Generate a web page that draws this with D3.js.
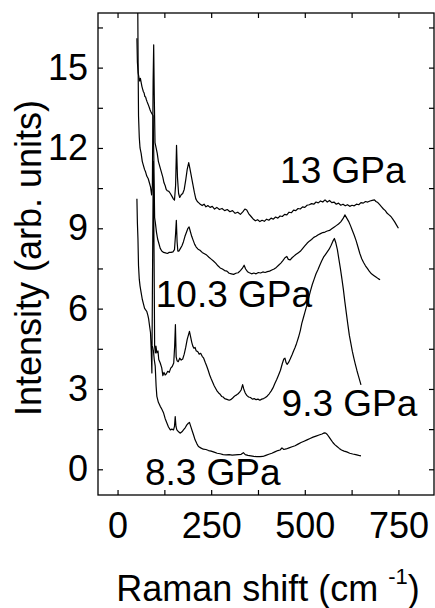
<!DOCTYPE html>
<html>
<head>
<meta charset="utf-8">
<script src="https://cdn.jsdelivr.net/npm/d3@7"></script>
<style>
  html, body { margin: 0; padding: 0; background: #fff; }
  svg { display: block; }
  text { font-family: "Liberation Sans", Arial, Helvetica, sans-serif; fill: #000; }
</style>
</head>
<body>
<svg id="chart" width="435" height="608"></svg>
<script>
// ---------------- data ----------------
const seriesNames = ["13 GPa", "10.3 GPa", "9.3 GPa", "8.3 GPa"];

const shift13 = [50,54,55,56,58,60,63,66,69,72,75,78,82,85,88,91,93,95,96.5,98,100,103,106,109,112,115,118,121,124,127,130,133,137,141,145,149,152,155,157.5,160,163,166,170,174,178,182,186,190,193,197,201,205,209,213,217,221,226,231,236,241,247,253,259,265,272,279,286,293,300,307,314,321,328,335,340,345,350,356,362,368,374,380,386,392,398,404,410,416,422,428,434,440,446,452,458,464,470,476,482,488,494,500,506,512,518,524,530,536,542,548,554,560,566,572,578,584,590,596,602,608,614,620,626,632,638,644,650,656,662,668,674,680,686,690,695,700,705,710,715,720,725,730,735,740,745,750];
const int13 = [19,17.2,15.0,13.2,12.4,12.0,11.8,11.5,11.35,11.2,11.1,10.95,10.85,10.7,10.55,10.25,10.6,14.5,15.85,14.0,12.2,12.0,11.8,11.5,11.35,11.2,11.05,10.9,10.7,10.6,10.45,10.4,10.38,10.3,10.2,10.1,10.05,10.6,12.1,10.9,10.3,10.15,10.25,10.3,10.45,10.8,11.2,11.45,11.25,10.95,10.65,10.35,10.1,10.0,9.95,9.9,9.85,9.9,9.8,9.85,9.78,9.82,9.72,9.78,9.7,9.74,9.66,9.7,9.62,9.66,9.56,9.6,9.52,9.62,9.72,9.68,9.55,9.45,9.35,9.28,9.32,9.25,9.3,9.26,9.34,9.3,9.38,9.34,9.42,9.38,9.46,9.44,9.52,9.5,9.6,9.58,9.68,9.66,9.74,9.72,9.8,9.78,9.86,9.88,9.92,9.9,9.98,9.95,10.02,9.98,10.06,9.98,10.04,9.96,9.98,9.9,9.94,9.86,9.9,9.84,9.88,9.82,9.86,9.84,9.9,9.88,9.96,9.94,10.0,9.98,10.02,10.04,10.06,10.0,9.96,9.88,9.8,9.72,9.66,9.56,9.5,9.44,9.34,9.24,9.12,9.0];

const shift103 = [51.7,53,55,57,59,61,63,65,67,69,71,73,75,77,79,81,83,85,87,89,91,93,95,97,99,101,104,107,110,114,118,123,128,133,138,143,148,152,155,157,159,161,164,168,172,176,180,184,188,191,194,198,202,206,210,215,220,226,232,238,244,250,256,262,268,274,280,286,292,298,304,310,316,322,328,333,338,342,347,352,358,364,370,376,382,388,394,400,406,412,418,424,430,436,442,447,452,456,461,466,471,476,482,488,494,500,506,512,518,524,530,536,542,548,554,560,566,572,578,584,590,596,602,607,612,617,622,627,632,637,642,647,652,657,662,667,672,678,684,690,696,701];
const int103 = [16.1,15.2,14.8,14.65,14.5,14.6,14.45,14.3,14.2,14.1,14.05,13.92,13.9,13.8,13.72,13.65,13.58,13.5,13.42,13.35,13.3,13.25,13.2,11.5,9.4,9.2,8.85,8.6,8.45,8.25,8.15,8.1,8.08,8.06,8.1,8.1,8.12,8.2,8.8,9.3,8.5,8.15,8.15,8.25,8.35,8.5,8.7,8.85,9.0,9.05,8.9,8.7,8.55,8.4,8.3,8.22,8.18,8.1,8.05,8.0,7.92,7.85,7.78,7.7,7.6,7.52,7.48,7.42,7.4,7.32,7.3,7.28,7.32,7.34,7.42,7.5,7.62,7.48,7.38,7.34,7.3,7.33,7.3,7.35,7.33,7.37,7.35,7.38,7.4,7.44,7.48,7.54,7.62,7.7,7.8,7.9,7.95,7.84,7.82,7.9,7.96,8.02,8.08,8.14,8.24,8.34,8.44,8.52,8.58,8.66,8.7,8.76,8.8,8.84,8.86,8.9,8.92,8.98,9.04,9.1,9.16,9.24,9.36,9.5,9.38,9.26,9.1,8.92,8.74,8.54,8.3,8.06,7.86,7.72,7.6,7.5,7.4,7.3,7.24,7.18,7.12,7.08];

const shift93 = [51.7,53,54.5,56,58,60,63,66,69.5,72,75,78,81,83,85.5,88,90,91.7,93,95.5,97.5,99,101,102.5,105,108,110,114,118,121,124,127,130,134,138,142,146,150,152.5,154.5,156.5,159,162,166,170,174,178,182,186,189,192,195,198,201,204,207,210,214,218,222,226,230,234,238,242,246,250,254,258,262,266,270,274,278,282,286,290,294,298,302,306,310,314,318,322,326,330,334,337,341,345,350,355,360,365,370,375,380,385,390,395,400,405,410,415,420,425,430,435,440,444,447,450,453,457,461,466,470,474,478,483,488,492,496,500,505,510,515,520,525,530,535,540,545,550,555,560,565,570,575,579,583,587,591,595,599,603,607,611,615,619,623,627,631,635,639,643,647,650];
const int93 = [10.1,9.2,8.6,7.6,7.1,6.85,6.6,6.35,6.16,6.02,5.95,5.9,5.75,5.62,5.35,5.1,4.4,3.6,6.5,11.5,8.0,4.6,4.35,4.6,4.35,4.42,4.1,3.97,3.79,3.5,3.62,3.52,3.56,3.66,3.62,3.78,3.84,3.97,4.6,5.4,4.2,4.05,4.02,4.15,4.08,4.12,4.3,4.55,4.85,5.0,5.15,4.95,4.75,4.6,4.52,4.55,4.42,4.4,4.3,4.33,4.22,4.15,4.0,3.86,3.7,3.52,3.38,3.25,3.12,3.02,2.92,2.85,2.8,2.72,2.7,2.64,2.62,2.6,2.58,2.6,2.64,2.7,2.75,2.78,2.82,2.88,2.96,3.16,3.0,2.85,2.76,2.7,2.68,2.62,2.64,2.6,2.62,2.58,2.62,2.64,2.68,2.74,2.82,2.92,3.04,3.2,3.35,3.52,3.7,3.95,4.12,4.15,3.98,3.92,4.0,4.12,4.28,4.42,4.55,4.7,4.92,5.18,5.45,5.65,5.85,6.1,6.38,6.65,6.9,7.1,7.3,7.45,7.62,7.78,7.92,8.02,8.12,8.22,8.36,8.52,8.62,8.45,8.2,7.85,7.5,7.12,6.72,6.25,5.82,5.4,5.0,4.7,4.4,4.15,3.92,3.7,3.5,3.3,3.15];

const shift83 = [93,96,98,100.6,103,105,109,114,118,123,127,132,136,141,145,149.5,152,154,156,158.4,163,167,172,176,181,185,189,192,195,199,203,207,212,216,222,229,236,243,250,258,266,274,282,290,298,306,314,322,330,336,341,348,356,364,372,380,388,396,404,412,420,428,434,439,444,450,458,466,474,482,490,498,506,514,522,530,538,546,552,556,560,565,570,575,580,586,592,598,605,612,620,628,636,644,650];
const int83 = [4.6,4.4,4.1,3.85,3.1,2.72,2.5,2.35,2.25,2.1,1.9,1.72,1.58,1.47,1.5,1.47,1.6,1.97,1.6,1.47,1.4,1.35,1.4,1.47,1.56,1.66,1.72,1.75,1.62,1.45,1.28,1.1,0.95,0.85,0.8,0.75,0.74,0.7,0.68,0.64,0.6,0.58,0.55,0.54,0.55,0.53,0.54,0.55,0.56,0.62,0.55,0.52,0.5,0.48,0.47,0.47,0.48,0.52,0.56,0.6,0.65,0.7,0.72,0.8,0.74,0.76,0.8,0.84,0.88,0.94,1.0,1.05,1.1,1.15,1.2,1.24,1.28,1.32,1.36,1.35,1.3,1.2,1.1,1.0,0.92,0.85,0.78,0.72,0.68,0.65,0.6,0.57,0.55,0.52,0.5];

// label anchor positions, in data units (Raman shift, intensity)
const labelShift = [434, 102, 438, 73];
const labelIntensity = [10.69, 6.06, 1.99, -0.59];

const xMajorTicks = [0, 250, 500, 750];
const xMinorTicks = [125, 375, 625];
const yMajorTicks = [0, 3, 6, 9, 12, 15];
const yMinorTicks = [1.5, 4.5, 7.5, 10.5, 13.5, 16.5];

const xDomain = [-52.2, 845];
const yDomain = [-0.96, 17.04];

// ---------------- drawing ----------------
const svg = d3.select("#chart");
const m = { left: 98, top: 13, right: 1, bottom: 113 };
const W = 435 - m.left - m.right;   // 336
const H = 608 - m.top - m.bottom;   // 482

const x = d3.scaleLinear().domain(xDomain).range([0, W]);
const y = d3.scaleLinear().domain(yDomain).range([H, 0]);

const g = svg.append("g").attr("transform", `translate(${m.left},${m.top})`);

g.append("defs").append("clipPath").attr("id", "clip")
  .append("rect").attr("width", W).attr("height", H);

const series = [
  { xs: shift13, ys: int13 },
  { xs: shift103, ys: int103 },
  { xs: shift93, ys: int93 },
  { xs: shift83, ys: int83 }
];

const line = d3.line().x(d => x(d[0])).y(d => y(d[1]));

g.append("g").attr("clip-path", "url(#clip)")
  .selectAll("path")
  .data(series)
  .join("path")
  .attr("d", s => line(s.xs.map((v, i) => [v, s.ys[i]])))
  .attr("fill", "none")
  .attr("stroke", "#000")
  .attr("stroke-width", 1.2)
  .attr("stroke-linejoin", "round");

// axes (ticks inward on all four sides)
const FS = 36;
function styleAxis(sel) {
  sel.select(".domain").remove();
  sel.selectAll(".tick line").attr("stroke", "#000").attr("stroke-width", 1.2);
  sel.selectAll("text").style("font-size", FS + "px").attr("fill", "#000");
}
const allX = xMajorTicks.concat(xMinorTicks);
const allY = yMajorTicks.concat(yMinorTicks);
const fmtX = v => xMajorTicks.includes(v) ? d3.format("d")(v) : "";
const fmtY = v => yMajorTicks.includes(v) ? d3.format("d")(v) : "";

g.append("g").attr("transform", `translate(0,${H})`)
  .call(d3.axisBottom(x).tickValues(allX).tickFormat(fmtX).tickSize(-5).tickPadding(17))
  .call(styleAxis);
g.append("g")
  .call(d3.axisTop(x).tickValues(allX).tickFormat("").tickSize(-5))
  .call(styleAxis);
g.append("g")
  .call(d3.axisLeft(y).tickValues(allY).tickFormat(fmtY).tickSize(-5).tickPadding(10))
  .call(styleAxis);
g.append("g").attr("transform", `translate(${W},0)`)
  .call(d3.axisRight(y).tickValues(allY).tickFormat("").tickSize(-5))
  .call(styleAxis);

// frame
g.append("rect").attr("width", W).attr("height", H)
  .attr("fill", "none").attr("stroke", "#000").attr("stroke-width", 1.3);

// series labels
g.selectAll(".lbl")
  .data(seriesNames)
  .join("text")
  .attr("class", "lbl")
  .attr("x", (d, i) => x(labelShift[i]))
  .attr("y", (d, i) => y(labelIntensity[i]))
  .style("font-size", "37px")
  .text(d => d);

// axis titles
const xt = svg.append("text")
  .attr("x", 268).attr("y", 601)
  .attr("text-anchor", "middle")
  .style("font-size", "36px");
xt.append("tspan").text("Raman shift (cm ");
xt.append("tspan").attr("dy", -17).style("font-size", "22px").text("-1");
xt.append("tspan").attr("dy", 17).text(")");

svg.append("text")
  .attr("transform", "translate(41,258) rotate(-90)")
  .attr("text-anchor", "middle")
  .style("font-size", "36px")
  .text("Intensity (arb. units)");
</script>
</body>
</html>
